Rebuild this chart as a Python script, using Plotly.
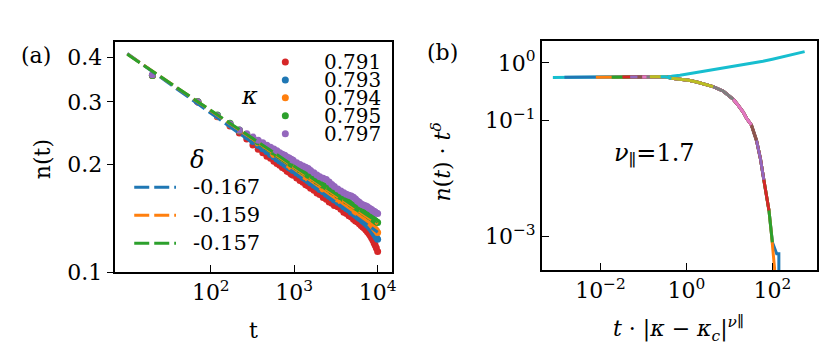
import plotly.graph_objects as go

# ---------------- panel (a): n(t) for several kappa ----------------
t = [20, 70, 120, 170, 220, 270, 320, 370, 420, 470, 520, 570, 620, 670, 720,
     770, 820, 870, 920, 970, 1070, 1170, 1270, 1370, 1470, 1570, 1720, 1870,
     2020, 2220, 2420, 2620, 2820, 3020, 3320, 3620, 3920, 4220, 4520, 4820,
     5120, 5420, 5720, 6020, 6320, 6620, 6920, 7220, 7520, 7820, 8120, 8420,
     8720, 9020, 9320, 9620, 9970]

n_0791 = [0.3559, 0.3000, 0.2726, 0.2568, 0.2455, 0.2361, 0.2272, 0.2212, 0.2160,
          0.2114, 0.2085, 0.2046, 0.2015, 0.1995, 0.1964, 0.1948, 0.1918, 0.1906,
          0.1880, 0.1868, 0.1836, 0.1807, 0.1788, 0.1759, 0.1744, 0.1718, 0.1697,
          0.1668, 0.1651, 0.1620, 0.1602, 0.1573, 0.1561, 0.1538, 0.1524, 0.1501,
          0.1473, 0.1460, 0.1438, 0.1427, 0.1407, 0.1391, 0.1383, 0.1366, 0.1352,
          0.1339, 0.1327, 0.1312, 0.1297, 0.1283, 0.1267, 0.1249, 0.1231, 0.1209,
          0.1189, 0.1168, 0.1143]
n_0793 = [0.3567, 0.3006, 0.2751, 0.2599, 0.2488, 0.2400, 0.2324, 0.2268, 0.2217,
          0.2179, 0.2138, 0.2107, 0.2075, 0.2050, 0.2027, 0.2002, 0.1981, 0.1963,
          0.1946, 0.1926, 0.1897, 0.1871, 0.1843, 0.1821, 0.1802, 0.1777, 0.1752,
          0.1729, 0.1704, 0.1680, 0.1654, 0.1633, 0.1615, 0.1593, 0.1571, 0.1550,
          0.1526, 0.1509, 0.1493, 0.1473, 0.1459, 0.1443, 0.1431, 0.1417, 0.1406,
          0.1392, 0.1380, 0.1369, 0.1355, 0.1344, 0.1330, 0.1317, 0.1300, 0.1284,
          0.1269, 0.1253, 0.1236]
n_0794 = [0.3567, 0.3000, 0.2737, 0.2591, 0.2495, 0.2422, 0.2358, 0.2300, 0.2254,
          0.2208, 0.2173, 0.2137, 0.2110, 0.2084, 0.2056, 0.2035, 0.2014, 0.1995,
          0.1973, 0.1956, 0.1927, 0.1900, 0.1876, 0.1850, 0.1830, 0.1810, 0.1785,
          0.1762, 0.1737, 0.1711, 0.1689, 0.1667, 0.1649, 0.1627, 0.1604, 0.1582,
          0.1562, 0.1544, 0.1523, 0.1507, 0.1493, 0.1479, 0.1468, 0.1453, 0.1441,
          0.1431, 0.1418, 0.1409, 0.1397, 0.1385, 0.1373, 0.1360, 0.1347, 0.1332,
          0.1320, 0.1308, 0.1291]
n_0795 = [0.3559, 0.3006, 0.2757, 0.2615, 0.2505, 0.2432, 0.2374, 0.2321, 0.2279,
          0.2235, 0.2204, 0.2172, 0.2140, 0.2118, 0.2094, 0.2068, 0.2051, 0.2032,
          0.2011, 0.1998, 0.1968, 0.1937, 0.1916, 0.1893, 0.1869, 0.1853, 0.1827,
          0.1799, 0.1781, 0.1751, 0.1732, 0.1710, 0.1687, 0.1672, 0.1644, 0.1626,
          0.1605, 0.1584, 0.1570, 0.1551, 0.1539, 0.1522, 0.1513, 0.1501, 0.1486,
          0.1478, 0.1465, 0.1459, 0.1449, 0.1437, 0.1429, 0.1421, 0.1413, 0.1401,
          0.1394, 0.1384, 0.1377]
n_0797 = [0.3578, 0.3000, 0.2745, 0.2604, 0.2505, 0.2444, 0.2391, 0.2342, 0.2306,
          0.2270, 0.2239, 0.2213, 0.2189, 0.2162, 0.2142, 0.2126, 0.2104, 0.2089,
          0.2071, 0.2058, 0.2027, 0.2005, 0.1983, 0.1969, 0.1952, 0.1927, 0.1900,
          0.1872, 0.1852, 0.1834, 0.1819, 0.1790, 0.1762, 0.1739, 0.1711, 0.1688,
          0.1669, 0.1654, 0.1644, 0.1635, 0.1622, 0.1604, 0.1584, 0.1569, 0.1552,
          0.1545, 0.1537, 0.1532, 0.1524, 0.1512, 0.1506, 0.1498, 0.1487, 0.1481,
          0.1474, 0.1466, 0.1459]

kappa_labels = ["0.791", "0.793", "0.794", "0.795", "0.797"]
kappa_series = [n_0791, n_0793, n_0794, n_0795, n_0797]
kappa_colors = ["#d62728", "#1f77b4", "#ff7f0e", "#2ca02c", "#9467bd"]

# power-law fits n ~ t^delta, end points
fit_t = [10, 10000]
delta_labels = ["-0.167", "-0.159", "-0.157"]
fit_n = [[0.410, 0.1294], [0.409, 0.1364], [0.408, 0.1380]]
delta_colors = ["#1f77b4", "#ff7f0e", "#2ca02c"]

# ---------------- panel (b): data collapse ----------------
flat_x = [7.8e-4, 1.45e-3, 3.16e-3, 7.8e-3, 0.0182, 0.0324, 0.049, 0.0724,
          0.0933, 0.1175, 0.141, 0.1905, 0.251, 0.316]
flat_y = [0.562, 0.564, 0.565, 0.566, 0.568, 0.569, 0.570, 0.571, 0.573,
          0.574, 0.575, 0.577, 0.578, 0.579]
drop_x = [0.447, 0.708, 1.122, 1.738, 2.818, 4.169, 7.244, 10.0, 12.30, 14.79,
          20.89, 25.12, 32.36, 42.66, 52.48, 63.10, 72.44, 83.18, 93.33, 100.0, 112.2]
drop_y = [0.543, 0.525, 0.501, 0.468, 0.427, 0.389, 0.324, 0.263, 0.234, 0.1995,
          0.1413, 0.1096, 0.0851, 0.0457, 0.0224, 0.00955, 0.00501, 0.00282,
          0.00126, 0.000794, 0.000282]
rise_x = [0.447, 0.708, 1.122, 1.738, 3.162, 5.623, 10.0, 17.78, 31.62, 60.26,
          100.0, 177.8, 316.2, 562.3]
rise_y = [0.589, 0.610, 0.646, 0.679, 0.724, 0.776, 0.836, 0.902, 0.977, 1.072,
          1.161, 1.274, 1.413, 1.567]

# subcritical curves: visible window on the collapsed curve, and drop-off tails
collapse_colors = ["#1f77b4", "#ff7f0e", "#2ca02c", "#d62728", "#9467bd",
                   "#8c564b", "#e377c2", "#7f7f7f", "#bcbd22", "#17becf"]
collapse_start = [1.45e-3, 7.8e-3, 0.0182, 0.0324, 0.049, 0.0724, 0.0933,
                  0.1175, 0.141, 0.251]
collapse_end = [100.0, 112.2, 100.0, 83.18, 63.10, 42.66, 32.36, 12.30, 4.169, 0.447]
tail_x = {0: [125.9, 141.3, 141.3], 1: [112.2]}
tail_y = {0: [0.000501, 0.000501, 0.0001], 1: [0.0001]}

W, H = 831, 361
FONT = "DejaVu Serif, Liberation Serif, serif"


def px(x):
    return x / W


def py(y):
    return 1 - y / H


fig = go.Figure()

# panel (a) points
for lab, vals, col in zip(kappa_labels, kappa_series, kappa_colors):
    fig.add_trace(go.Scatter(x=t, y=vals, mode="markers", name=lab,
                             marker=dict(color=col, size=7),
                             xaxis="x", yaxis="y", showlegend=False))
# panel (a) fits
for lab, vals, col in zip(delta_labels, fit_n, delta_colors):
    fig.add_trace(go.Scatter(x=fit_t, y=vals, mode="lines", name=lab,
                             line=dict(color=col, width=3, dash="15px,5px"),
                             xaxis="x", yaxis="y", showlegend=False))

# panel (b): supercritical branch underneath
fig.add_trace(go.Scatter(x=flat_x + rise_x, y=flat_y + rise_y, mode="lines",
                         line=dict(color="#17becf", width=3),
                         xaxis="x2", yaxis="y2", showlegend=False))
path_x = flat_x + drop_x
path_y = flat_y + drop_y
for i, col in enumerate(collapse_colors):
    xs = [x for x in path_x if collapse_start[i] <= x <= collapse_end[i]]
    ys = [y for x, y in zip(path_x, path_y) if collapse_start[i] <= x <= collapse_end[i]]
    xs += tail_x.get(i, [])
    ys += tail_y.get(i, [])
    fig.add_trace(go.Scatter(x=xs, y=ys, mode="lines",
                             line=dict(color=col, width=3),
                             xaxis="x2", yaxis="y2", showlegend=False))

axis_common = dict(showline=True, linecolor="black", linewidth=1.5, mirror=True,
                   showgrid=False, zeroline=False, ticklen=7, tickwidth=1.3,
                   tickcolor="black", tickfont=dict(family=FONT, size=22, color="black"))

fig.update_layout(
    width=W, height=H,
    margin=dict(l=0, r=0, t=0, b=0),
    paper_bgcolor="white", plot_bgcolor="white",
    font=dict(family=FONT, size=22, color="black"),
    xaxis=dict(axis_common, type="log", domain=[px(108), px(386)],
               range=[0.857, 4.167], ticks="inside", anchor="y",
               tickvals=[100, 1000, 10000],
               ticktext=["10<sup>2</sup>", "10<sup>3</sup>", "10<sup>4</sup>"]),
    yaxis=dict(axis_common, type="log", domain=[py(274), py(35)],
               range=[-1, -0.354], ticks="outside", anchor="x",
               tickvals=[0.1, 0.2, 0.3, 0.4], ticktext=["0.1", "0.2", "0.3", "0.4"]),
    xaxis2=dict(axis_common, type="log", domain=[px(537), px(814)],
                range=[-3.366, 3.04], ticks="inside", anchor="y2",
                tickvals=[0.01, 1, 100],
                ticktext=["10<sup>−2</sup>", "10<sup>0</sup>", "10<sup>2</sup>"]),
    yaxis2=dict(axis_common, type="log", domain=[py(272), py(34)],
                range=[-3.583, 0.383], ticks="inside", anchor="x2",
                tickvals=[0.001, 0.1, 1],
                ticktext=["10<sup>−3</sup>", "10<sup>−1</sup>", "10<sup>0</sup>"]),
)

ann = []
shapes = []


def text(x, y, s, xanchor="center", angle=0, size=22, height=None):
    a = dict(x=px(x), y=py(y), xref="paper", yref="paper", text=s,
             showarrow=False, xanchor=xanchor, yanchor="middle",
             textangle=angle, font=dict(family=FONT, size=size, color="black"))
    if height:
        a["height"] = height
    ann.append(a)


text(28, 49, "(a)")
text(437, 46, "(b)")
text(35, 157, "n(t)", angle=-90)
text(247, 335, "t")
text(436, 160, "<i>n</i>(<i>t</i>) · <i>t</i><sup><i>δ</i></sup>", angle=-90)
text(675, 333, "<i>t</i> · |<i>κ</i> − <i>κ</i><sub><i>c</i></sub>|<sup><i>ν</i>∥</sup>")
text(608, 152, "<i>ν</i><sub>∥</sub>=1.7", xanchor="left", size=24)

# kappa legend
text(243, 91, "<i>κ</i>", size=24)
for k, (lab, col) in enumerate(zip(kappa_labels, kappa_colors)):
    yy = 56 + 18.6 * k
    shapes.append(dict(type="circle", xref="paper", yref="paper",
                       xsizemode="pixel", ysizemode="pixel",
                       xanchor=px(279), yanchor=py(yy),
                       x0=-3.5, x1=3.5, y0=-3.5, y1=3.5,
                       fillcolor=col, line=dict(width=0)))
    text(316, yy, lab, xanchor="left", size=20, height=18)

# delta legend
text(190, 158, "<i>δ</i>", size=24)
for k, (lab, col) in enumerate(zip(delta_labels, delta_colors)):
    yy = 186 + 29 * k
    shapes.append(dict(type="line", xref="paper", yref="paper",
                       x0=px(127), x1=px(169), y0=py(yy), y1=py(yy),
                       line=dict(color=col, width=3, dash="15px,5px")))
    text(184, yy, lab, xanchor="left", size=21)

fig.update_layout(annotations=ann, shapes=shapes)
fig.write_html("out.html")
